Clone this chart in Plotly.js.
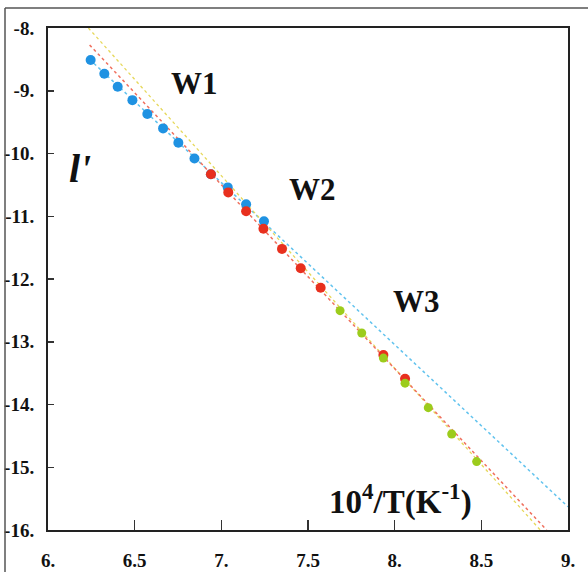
<!DOCTYPE html>
<html>
<head>
<meta charset="utf-8">
<script src="https://cdn.plot.ly/plotly-3.0.1.min.js"></script>
<style>html,body{margin:0;padding:0;background:#fff;}#chart{width:588px;height:572px;}</style>
</head>
<body>
<div id="chart"></div>
<script>
// W1 (blue) data points
var w1X = [6.246, 6.325, 6.402, 6.487, 6.573, 6.664, 6.752, 6.845, 6.94, 7.037, 7.143, 7.246];
var w1Y = [-8.51, -8.73, -8.935, -9.15, -9.37, -9.60, -9.83, -10.08, -10.33, -10.54, -10.81, -11.08];
// W2 (red) data points
var w2X = [6.94, 7.04, 7.143, 7.243, 7.35, 7.458, 7.573, 7.935, 8.06];
var w2Y = [-10.33, -10.62, -10.92, -11.2, -11.52, -11.83, -12.14, -13.21, -13.59];
// W3 (green) data points
var w3X = [7.685, 7.81, 7.935, 8.06, 8.194, 8.329, 8.473];
var w3Y = [-12.505, -12.86, -13.26, -13.66, -14.05, -14.47, -14.91];
// fitted lines (end points)
var fitW1X = [6.24, 9.0];
var fitW1Y = [-8.5, -15.63];
var fitW2X = [6.24, 8.877];
var fitW2Y = [-8.27, -16.0];
var fitW3X = [6.233, 8.84];
var fitW3Y = [-8.0, -16.0];
// axis ticks
var xTickVals = [6, 6.5, 7, 7.5, 8, 8.5, 9];
var xTickText = ["6.", "6.5", "7.", "7.5", "8.", "8.5", "9."];
var yTickVals = [-8, -9, -10, -11, -12, -13, -14, -15, -16];
var yTickText = ["-8.", "-9.", "-10.", "-11.", "-12.", "-13.", "-14.", "-15.", "-16."];

var serif = "Liberation Serif";

var traces = [
  {x: fitW1X, y: fitW1Y, mode: "lines", line: {color: "#62c3ee", width: 1.5, dash: "dot"}, hoverinfo: "skip"},
  {x: fitW3X, y: fitW3Y, mode: "lines", line: {color: "#e6d85a", width: 1.3, dash: "dot"}, hoverinfo: "skip"},
  {x: fitW2X, y: fitW2Y, mode: "lines", line: {color: "#f0705e", width: 1.5, dash: "dot"}, hoverinfo: "skip"},
  {x: w1X, y: w1Y, mode: "markers", marker: {color: "#1f92e2", size: 10}},
  {x: w2X, y: w2Y, mode: "markers", marker: {color: "#e8301e", size: 10}},
  {x: w3X, y: w3Y, mode: "markers", marker: {color: "#9ccc1c", size: 9}}
];

function ann(text, px, py, size, extra) {
  var f = {family: serif, size: size, color: "#111", weight: "bold"};
  if (extra) f.style = extra;
  return {text: text, xref: "paper", yref: "paper", x: (px - 48) / 520, y: (530 - py) / 502,
          xanchor: "center", yanchor: "middle", showarrow: false, font: f};
}

var layout = {
  width: 588, height: 572,
  margin: {l: 48, r: 20, t: 28, b: 42, pad: 0},
  paper_bgcolor: "#ffffff", plot_bgcolor: "#ffffff",
  showlegend: false,
  xaxis: {
    range: [6, 9], tickvals: xTickVals, ticktext: xTickText,
    ticks: "inside", ticklen: 10, tickwidth: 1.5, tickcolor: "#333",
    showline: true, linecolor: "#222", linewidth: 2, mirror: true,
    showgrid: false, zeroline: false, ticklabelstandoff: 12,
    tickfont: {family: serif, size: 19, color: "#111", weight: "bold"}
  },
  yaxis: {
    range: [-16, -8], tickvals: yTickVals, ticktext: yTickText,
    ticks: "inside", ticklen: 6, tickwidth: 1.5, tickcolor: "#333",
    showline: true, linecolor: "#222", linewidth: 2, mirror: true,
    showgrid: false, zeroline: false, ticklabelstandoff: 8,
    tickfont: {family: serif, size: 19, color: "#111", weight: "bold"}
  },
  annotations: [
    ann("W1", 194, 83, 31),
    ann("W2", 312, 189, 31),
    ann("W3", 416, 301, 31),
    ann("l'", 80, 168, 40, "italic"),
    ann("10<sup>4</sup>/T(K<sup>-1</sup>)", 400, 499, 33)
  ],
  shapes: [
    {type: "line", xref: "paper", yref: "paper", x0: (5-48)/520, x1: (5-48)/520, y0: (530-8)/502, y1: (530-575)/502, line: {color: "#555", width: 1.5}},
    {type: "line", xref: "paper", yref: "paper", x0: (5-48)/520, x1: (590-48)/520, y0: (530-8)/502, y1: (530-8)/502, line: {color: "#555", width: 1.5}}
  ]
};

Plotly.newPlot("chart", traces, layout, {staticPlot: true, displayModeBar: false});
</script>
</body>
</html>
